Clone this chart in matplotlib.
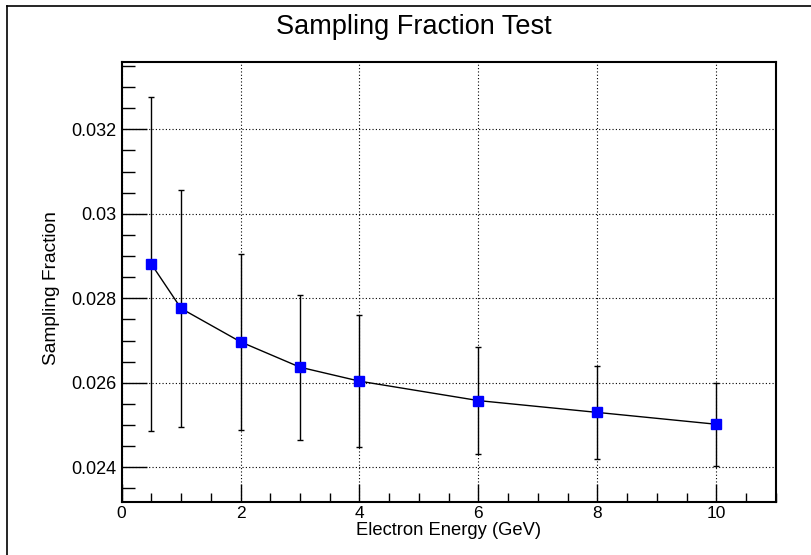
import numpy as np
import matplotlib
matplotlib.use('Agg')
import matplotlib.pyplot as plt
from matplotlib.ticker import MultipleLocator
from matplotlib.lines import Line2D

plt.rcParams['font.family'] = ['Liberation Sans', 'DejaVu Sans']

energy = [0.5, 1, 2, 3, 4, 6, 8, 10]
frac = [0.02881, 0.02776, 0.02697, 0.02637, 0.02604, 0.02558, 0.02530, 0.02502]
frac_err = [0.00396, 0.00281, 0.00208, 0.00172, 0.00157, 0.00127, 0.00111, 0.00098]

fig = plt.figure(figsize=(8.11, 5.55), dpi=100)
ax = fig.add_axes([0.150, 0.0955, 0.8065, 0.7933])

# canvas border (left and top only)
fig.add_artist(Line2D([7/811, 7/811], [0, 1 - 6/555], color='black', lw=1.2, transform=fig.transFigure))
fig.add_artist(Line2D([7/811, 1], [1 - 6/555, 1 - 6/555], color='black', lw=1.2, transform=fig.transFigure))

ax.errorbar(energy, frac, yerr=frac_err, fmt='none', ecolor='black', elinewidth=1.0,
            capsize=2.5, capthick=1.0, zorder=3)
ax.plot(energy, frac, color='black', lw=1.0, zorder=4)
ax.plot(energy, frac, ls='none', marker='s', ms=6.5, mfc='#0000ff', mec='#0000ff', zorder=5)

ax.set_xlim(0, 11)
ax.set_ylim(0.02318, 0.0336)

ax.xaxis.set_major_locator(MultipleLocator(2))
ax.xaxis.set_minor_locator(MultipleLocator(0.5))
ax.yaxis.set_major_locator(MultipleLocator(0.002))
ax.yaxis.set_minor_locator(MultipleLocator(0.0005))
ax.yaxis.set_major_formatter(plt.FuncFormatter(lambda v, p: ('%g' % round(v, 4))))
ax.xaxis.set_major_formatter(plt.FuncFormatter(lambda v, p: '%d' % v))

ax.tick_params(axis='x', which='major', direction='in', length=13, width=1, labelsize=12.5, pad=3)
ax.tick_params(axis='x', which='minor', direction='in', length=6.5, width=1)
ax.tick_params(axis='y', which='major', direction='in', length=18, width=1, labelsize=13, pad=4)
ax.tick_params(axis='y', which='minor', direction='in', length=9, width=1)

ax.grid(True, which='major', color='black', ls=(0, (1, 2)), lw=0.8)
for s in ax.spines.values():
    s.set_linewidth(1.5)

ax.set_xlabel('Electron Energy (GeV)', fontsize=13.2, labelpad=0.5)
ax.set_ylabel('Sampling Fraction', fontsize=13.8, va='center')
ax.yaxis.set_label_coords(-0.108, 0.486)
fig.text(414/811, 1 - 27/555, 'Sampling Fraction Test', ha='center', va='center', fontsize=19.5)

fig.savefig('out.png', dpi=100)
